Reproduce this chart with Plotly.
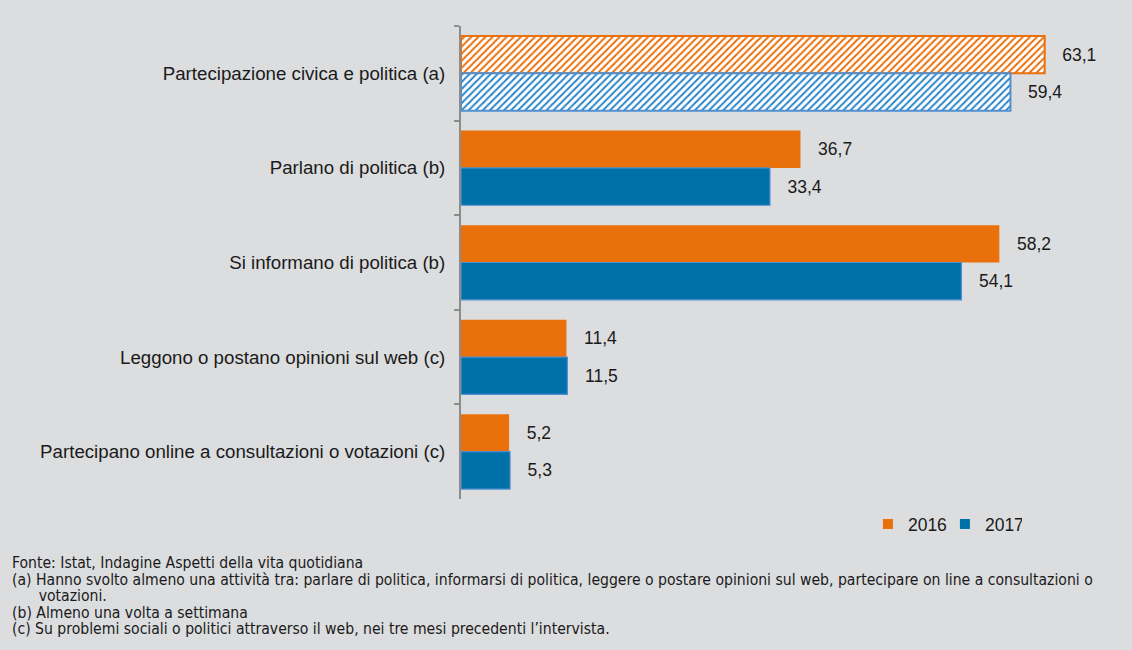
import plotly.graph_objects as go

categories = [
    "Partecipazione civica e politica (a)",
    "Parlano di politica (b)",
    "Si informano di politica (b)",
    "Leggono o postano opinioni sul web (c)",
    "Partecipano online a consultazioni o votazioni (c)",
]
values_2016 = [63.1, 36.7, 58.2, 11.4, 5.2]
values_2017 = [59.4, 33.4, 54.1, 11.5, 5.3]
series_names = ["2016", "2017"]

footnotes = [
    "Fonte: Istat, Indagine Aspetti della vita quotidiana",
    "(a) Hanno svolto almeno una attività tra: parlare di politica, informarsi di politica, leggere o postare opinioni sul web, partecipare on line a consultazioni o",
    "\u00a0\u00a0\u00a0\u00a0\u00a0\u00a0votazioni.",
    "(b) Almeno una volta a settimana",
    "(c) Su problemi sociali o politici attraverso il web, nei tre mesi precedenti l\u2019intervista.",
]

ORANGE = "#ea700b"
BLUE = "#0070a8"
BLUE_EDGE = "#4f8fcf"
BG = "#dcdddf"

def fmt(v):
    return "\u00a0\u00a0\u00a0" + f"{v:.1f}".replace(".", ",")

n = len(categories)
hatch_shapes = ["/"] + [""] * (n - 1)

fig = go.Figure()
fig.add_trace(go.Bar(
    name=series_names[0], y=categories, x=values_2016, orientation="h",
    showlegend=False,
    marker=dict(
        color=ORANGE,
        line=dict(color=ORANGE, width=[2] + [0] * (n - 1)),
        pattern=dict(shape=hatch_shapes, fgcolor=ORANGE, bgcolor="white",
                     fillmode="replace", size=5, solidity=0.4),
    ),
    text=[fmt(v) for v in values_2016], textposition="outside",
    textfont=dict(size=17.5, color="#1a1a1a", family="Liberation Sans, Arial"),
    cliponaxis=False,
))
fig.add_trace(go.Bar(
    name=series_names[1], y=categories, x=values_2017, orientation="h",
    showlegend=False,
    marker=dict(
        color=BLUE,
        line=dict(color=BLUE_EDGE, width=[2] + [1.2] * (n - 1)),
        pattern=dict(shape=hatch_shapes, fgcolor="#2a86c8", bgcolor="white",
                     fillmode="replace", size=5, solidity=0.4),
    ),
    text=[fmt(v) for v in values_2017], textposition="outside",
    textfont=dict(size=17.5, color="#1a1a1a", family="Liberation Sans, Arial"),
    cliponaxis=False,
))
# legend entries (solid squares)
for name, col in zip(series_names, [ORANGE, BLUE]):
    fig.add_trace(go.Scatter(
        x=[None], y=[None], mode="markers", name=name,
        marker=dict(symbol="square", size=10, color=col),
        showlegend=True,
    ))

fig.update_layout(
    width=1132, height=650,
    paper_bgcolor=BG, plot_bgcolor=BG,
    barmode="group", bargap=0.21, bargroupgap=0.0,
    margin=dict(l=461, r=5, t=26, b=151),
    font=dict(family="Liberation Sans, Arial", size=17, color="#1a1a1a"),
    xaxis=dict(range=[0, 72], visible=False, showgrid=False, zeroline=False),
    yaxis=dict(
        autorange="reversed", showgrid=False, zeroline=False,
        showline=True, linecolor="#8c8c8c", linewidth=2,
        ticks="outside", tickson="boundaries", ticklen=5, tickcolor="#8c8c8c", tickwidth=2,
        ticklabelstandoff=10,
        tickfont=dict(size=18.7, color="#1a1a1a"),
    ),
    showlegend=True,
    legend=dict(
        orientation="h", x=0.611, y=-0.015, xanchor="left", yanchor="top",
        bgcolor="rgba(0,0,0,0)", font=dict(size=17.5),
        itemwidth=30, entrywidth=32, entrywidthmode="pixels",
    ),
)

ys = [563, 579.5, 596, 612.5, 629]
for txt, yp in zip(footnotes, ys):
    fig.add_annotation(
        text=txt, xref="paper", yref="paper",
        x=-(461 - 10) / (1132 - 461 - 5), y=(650 - 151 - yp) / (650 - 26 - 151),
        xanchor="left", yanchor="middle", showarrow=False, align="left",
        font=dict(family="Liberation Sans Narrow, DejaVu Sans Condensed, Arial", size=15.6, color="#1a1a1a"),
    )

fig.write_html("out.html", config={"displayModeBar": False},
               post_script="document.body.style.margin='0px';document.body.style.overflow='hidden';")
